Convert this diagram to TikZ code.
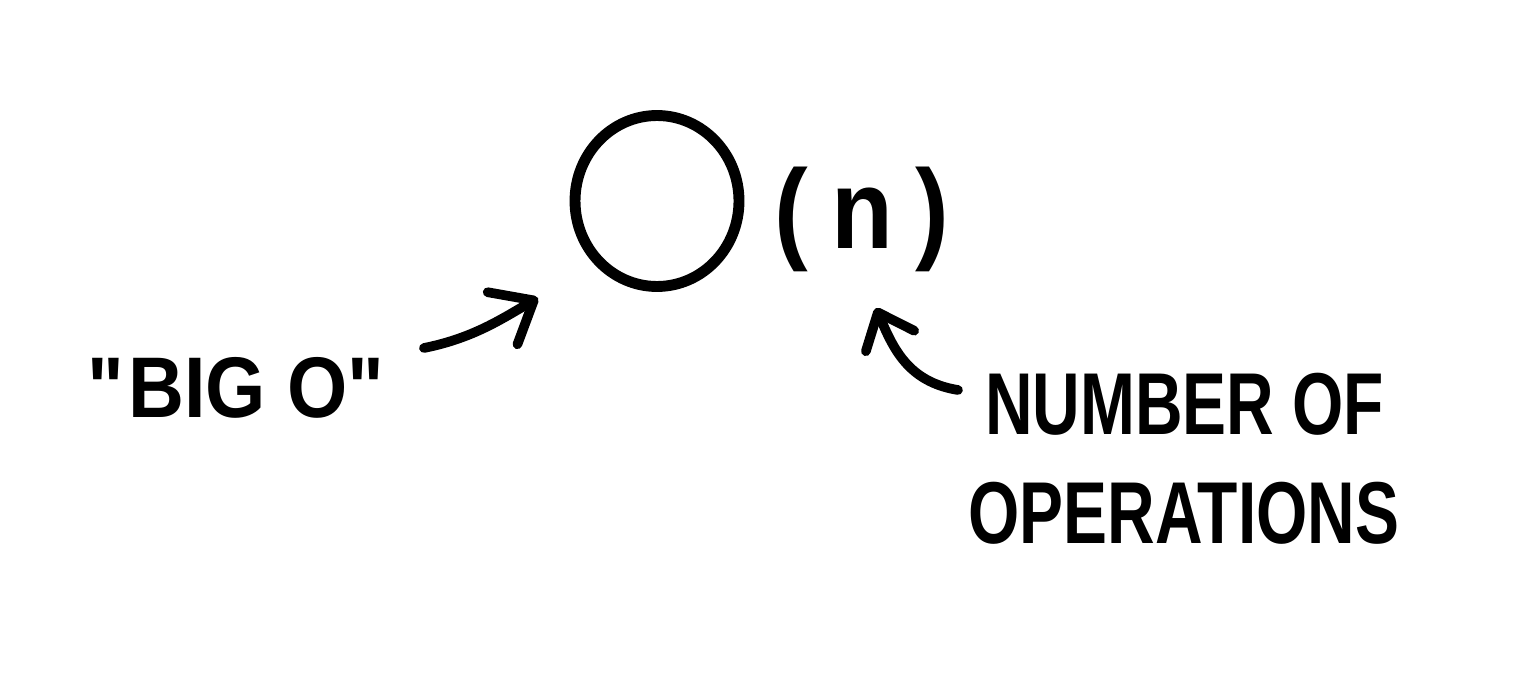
\documentclass[tikz,border=0pt]{standalone}
\usepackage{fontspec}
\setmainfont{Liberation Sans}
\newfontfamily\handfont[FakeStretch=0.9]{Liberation Sans Bold}
\newfontfamily\narrowfont[FakeStretch=0.75]{Liberation Sans Bold}
\usetikzlibrary{shapes.geometric,arrows.meta,calc}
\begin{document}
\begin{tikzpicture}[x=0.02cm,y=-0.02cm,
  pen/.style={draw=black,line width=5.5pt,line cap=round,line join=round},
  barb/.style={pen,-{Straight Barb[length=0.72cm,width=1.2cm,round]}},
  sbarb/.style={pen,-{Straight Barb[length=0.62cm,width=1.05cm,round]}},
  lbl/.style={inner sep=0pt,font=\handfont\fontsize{49}{58}\selectfont},
  rlbl/.style={inner sep=0pt,anchor=west,font=\narrowfont\fontsize{50}{58}\selectfont},
]
\useasboundingbox (0,0) rectangle (1520,686);
\node[ellipse,draw,line width=6.2pt,minimum width=3.28cm,minimum height=3.42cm,inner sep=0pt] (bigo) at (657,201) {};
\node[lbl,font=\handfont\fontsize{64}{74}\selectfont] (ofn) at (862,219) {(\kern.2em n\kern.2em)};
\node[lbl] (biglabel) at (238,388) {\textquotedbl BIG O\textquotedbl};
\node[rlbl] (numof) at (985,404) {NUMBER OF};
\node[rlbl] (oper) at (968,513) {OPERATIONS};
\draw[barb] ($(biglabel.east)+(35,-40)$) .. controls +(50,-10) and +(-35,20) .. ($(bigo)+(-119,97)$);
\draw[sbarb] ($(numof.west)+(-27,-14)$) .. controls +(-50,-8) and +(17,40) .. ($(ofn)+(14,89)$);
\end{tikzpicture}
\end{document}
